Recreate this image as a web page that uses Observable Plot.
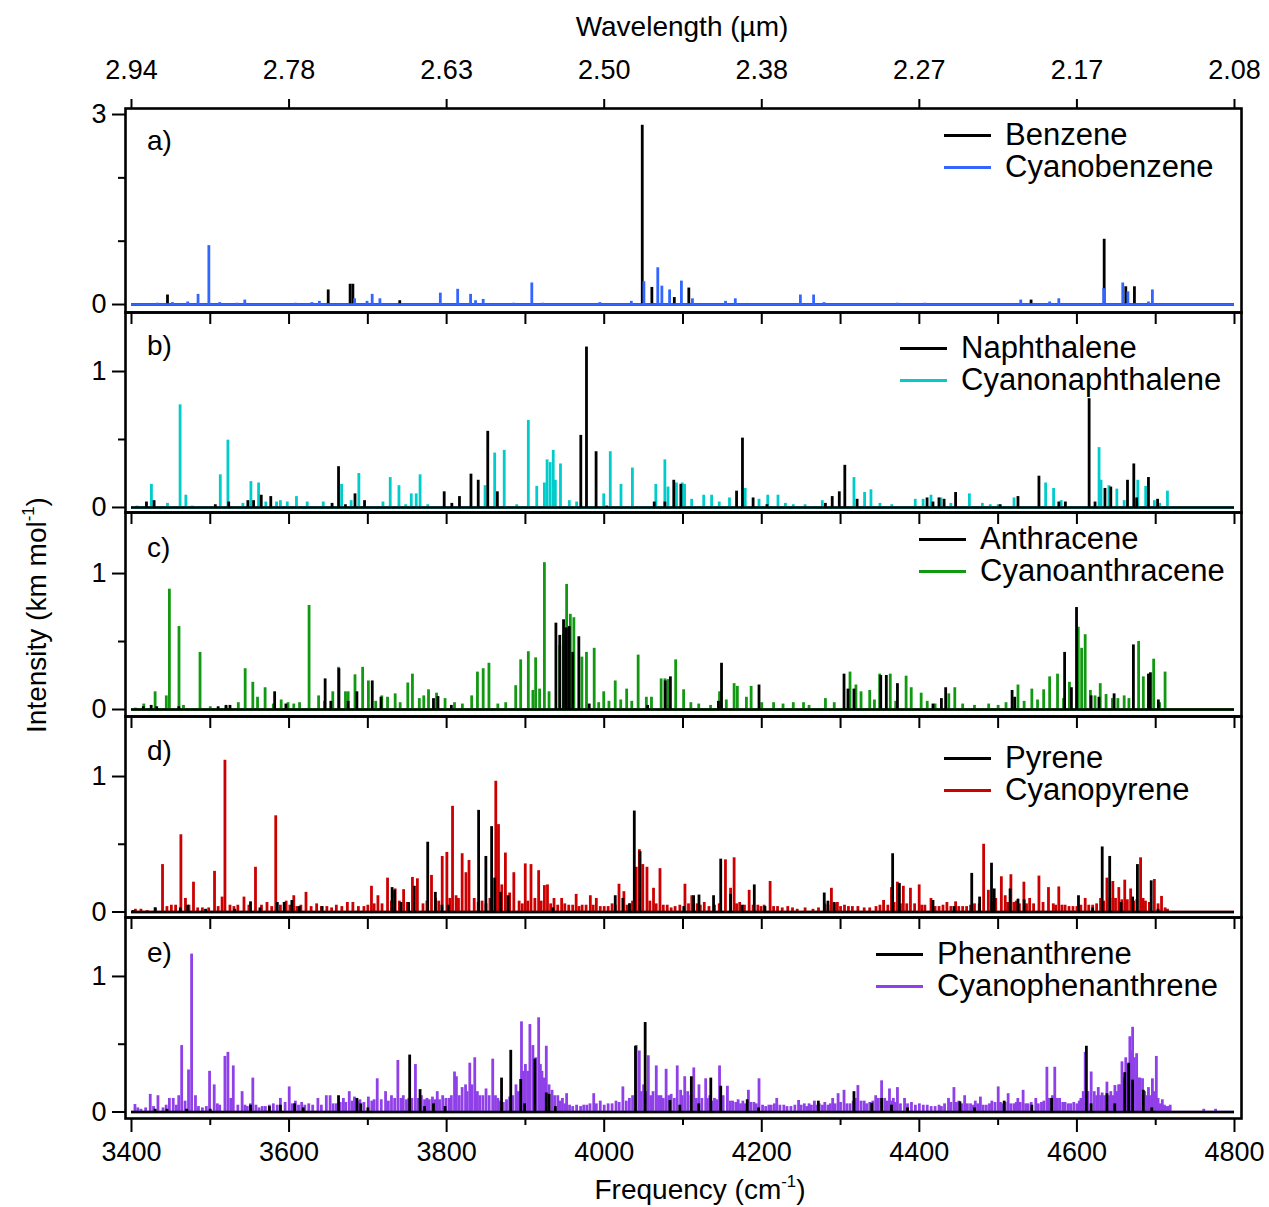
<!DOCTYPE html>
<html>
<head>
<meta charset="utf-8">
<script src="https://cdn.jsdelivr.net/npm/d3@7"></script>
<script src="https://cdn.jsdelivr.net/npm/@observablehq/plot@0.6"></script>
<style>
  html, body { margin: 0; padding: 0; background: white; }
  #chart { position: relative; width: 1269px; height: 1207px; background: white;
           font-family: "Liberation Sans", Arial, Helvetica, sans-serif; color: black; }
  #chart svg { position: absolute; left: 0; overflow: visible; }
  .lbl { position: absolute; white-space: nowrap; line-height: 1; }
  .leg-line { position: absolute; height: 3px; }
</style>
</head>
<body>
<div id="chart"></div>
<script>
// ---------------- DATA ----------------
const freqMajorTicks = [3400, 3600, 3800, 4000, 4200, 4400, 4600, 4800];
const freqMinorTicks = [3500, 3700, 3900, 4100, 4300, 4500, 4700];
const freqAllTicks = [3400, 3500, 3600, 3700, 3800, 3900, 4000, 4100, 4200, 4300, 4400, 4500, 4600, 4700, 4800];
const wavelengthLabels = ["2.94", "2.78", "2.63", "2.50", "2.38", "2.27", "2.17", "2.08"];
const freqRange = [3400, 4800];
const yMajorA = [0, 3], yMinorA = [1, 2];
const yMajor = [0, 1], yMinor = [0.5];
const panelLetters = ["a)", "b)", "c)", "d)", "e)"];
const parentNames = ["Benzene", "Naphthalene", "Anthracene", "Pyrene", "Phenanthrene"];
const cyanoNames = ["Cyanobenzene", "Cyanonaphthalene", "Cyanoanthracene", "Cyanopyrene", "Cyanophenanthrene"];

// [frequency cm-1, intensity km/mol]
const benzene = [[3445.7,0.15],[3649.7,0.23],[3677.5,0.32],[3681,0.32],[3740.5,0.06],[4048.3,2.83],[4060.5,0.27],[4089,0.11],[4107.4,0.26],[4541.8,0.07],[4634.6,1.03],[4662,0.28],[4673,0.28]];
const cyanobenzene = [[3433,0.02],[3452,0.03],[3471.4,0.04],[3484.5,0.16],[3498.2,0.93],[3512,0.03],[3534,0.02],[3543.8,0.07],[3608,0.02],[3629,0.03],[3638.5,0.05],[3683.2,0.09],[3699,0.05],[3705.5,0.16],[3715.3,0.09],[3792,0.18],[3814,0.24],[3830.4,0.16],[3836.7,0.06],[3846.4,0.08],[3885,0.02],[3908.1,0.34],[3922,0.02],[3994.5,0.03],[4034.4,0.05],[4050.4,0.36],[4068,0.58],[4073.2,0.29],[4083,0.23],[4098,0.37],[4112,0.09],[4154,0.05],[4166.4,0.09],[4249,0.15],[4265.8,0.15],[4279,0.03],[4372,0.02],[4407,0.02],[4528.7,0.07],[4565.4,0.04],[4577,0.09],[4634,0.25],[4658.2,0.34],[4664.7,0.2],[4690.8,0.04],[4695.8,0.23]];

const naphthalene = [[3419,0.04],[3428.7,0.05],[3506.4,0.02],[3523.4,0.04],[3547.7,0.05],[3555,0.05],[3564.7,0.09],[3576.8,0.08],[3654.6,0.03],[3662.8,0.30],[3671.6,0.02],[3683.7,0.10],[3695.8,0.05],[3796.9,0.115],[3806.6,0.03],[3816.3,0.08],[3830.9,0.245],[3840.1,0.20],[3852.2,0.56],[3864.4,0.115],[3970.3,0.53],[3977.5,1.18],[3989.7,0.41],[4003,0.01],[4063.5,0.04],[4077,0.04],[4088.3,0.20],[4097.3,0.17],[4168,0.12],[4175.5,0.51],[4189,0.07],[4206.6,0.02],[4280.8,0.03],[4289.4,0.08],[4298.4,0.115],[4305.4,0.31],[4321,0.06],[4409.8,0.07],[4417.3,0.04],[4424.9,0.07],[4431.4,0.06],[4446,0.11],[4502.6,0.02],[4525.2,0.08],[4551.8,0.23],[4577,0.04],[4585.4,0.04],[4615.5,0.80],[4623,0.04],[4635.6,0.14],[4643,0.15],[4664.2,0.20],[4672.2,0.32],[4675.8,0.07],[4690.8,0.22],[4702.4,0.06]];
const cyanonaphthalene = [[3407,0.01],[3425.3,0.17],[3445.7,0.03],[3461.7,0.755],[3469,0.09],[3477,0.01],[3512.7,0.24],[3522.4,0.495],[3541.4,0.03],[3551.6,0.19],[3561.3,0.18],[3570.5,0.04],[3584.1,0.04],[3589,0.05],[3597.7,0.04],[3609.4,0.08],[3623,0.04],[3643.4,0.04],[3666.7,0.17],[3678.8,0.05],[3688.6,0.25],[3719.2,0.04],[3728.4,0.22],[3739.5,0.16],[3748,0.02],[3755.1,0.10],[3761.4,0.10],[3766.3,0.24],[3776,0.02],[3848.8,0.16],[3861,0.40],[3873.1,0.42],[3889,0.02],[3903.7,0.64],[3914.4,0.155],[3924.1,0.18],[3927.5,0.35],[3931.4,0.33],[3935.3,0.42],[3938,0.2],[3944.5,0.32],[3955.7,0.05],[3965,0.04],[3999.4,0.10],[4007.7,0.41],[4021.3,0.17],[4035.8,0.29],[4065.5,0.17],[4077,0.35],[4081,0.15],[4091.7,0.18],[4099,0.18],[4102,0.17],[4111,0.06],[4126.3,0.09],[4136.3,0.09],[4146,0.04],[4159,0.07],[4179,0.14],[4196.5,0.06],[4207.6,0.09],[4220.6,0.09],[4230,0.03],[4240,0.02],[4255,0.02],[4276.8,0.05],[4317,0.22],[4330.5,0.11],[4338.6,0.13],[4350,0.03],[4365,0.02],[4394.8,0.06],[4404.8,0.06],[4414.8,0.09],[4427.4,0.07],[4440,0.03],[4463.5,0.10],[4480,0.03],[4490,0.02],[4500,0.02],[4520.2,0.07],[4560.3,0.18],[4570.4,0.14],[4580,0.05],[4628.1,0.44],[4630.6,0.20],[4640.6,0.16],[4650.7,0.135],[4660,0.05],[4677.3,0.20],[4687.3,0.155],[4698.3,0.05],[4705,0.03],[4714.9,0.12]];

const anthracene = [[3415,0.02],[3425,0.03],[3432,0.02],[3460,0.02],[3510,0.02],[3520,0.03],[3525,0.03],[3581.7,0.13],[3596,0.04],[3645.8,0.225],[3653,0.06],[3663.3,0.30],[3675,0.06],[3686.1,0.13],[3705.6,0.21],[3716.7,0.09],[3783.3,0.08],[3789,0.095],[3806,0.03],[3938.7,0.635],[3943.6,0.545],[3948.4,0.66],[3952,0.6],[3955.7,0.61],[3960,0.42],[3967.8,0.535],[3981,0.04],[4055,0.03],[4077.5,0.21],[4084,0.24],[4145,0.06],[4148.9,0.34],[4196.5,0.18],[4304.4,0.26],[4309.4,0.15],[4317,0.15],[4351,0.25],[4358.1,0.25],[4372.2,0.19],[4417.3,0.04],[4428,0.08],[4433.4,0.16],[4517.7,0.14],[4521,0.09],[4584.4,0.42],[4593,0.16],[4599.5,0.75],[4618,0.10],[4628,0.09],[4647.2,0.115],[4671.7,0.475],[4690.8,0.26],[4693.3,0.27],[4703.4,0.07]];
const cyanoanthracene = [[3405,0.01],[3415.6,0.04],[3430,0.13],[3444.2,0.10],[3448.1,0.885],[3460.3,0.61],[3466,0.03],[3487,0.42],[3500,0.02],[3520,0.02],[3535.6,0.05],[3544.3,0.30],[3554,0.20],[3560,0.09],[3569.6,0.16],[3580,0.04],[3590,0.07],[3598.7,0.05],[3606,0.04],[3613.3,0.05],[3625.4,0.765],[3637.5,0.10],[3645,0.06],[3655.5,0.13],[3662.8,0.31],[3671.6,0.13],[3675,0.13],[3683.7,0.255],[3693.4,0.31],[3700.7,0.21],[3710,0.06],[3717.7,0.10],[3725,0.09],[3734.7,0.115],[3741,0.05],[3750.7,0.195],[3756.6,0.26],[3765.3,0.08],[3771,0.1],[3777,0.145],[3787.2,0.12],[3798,0.08],[3810,0.05],[3820,0.04],[3831.8,0.10],[3839.1,0.275],[3846.4,0.30],[3853.7,0.34],[3865,0.04],[3875,0.05],[3887.7,0.175],[3894,0.365],[3903.7,0.425],[3909.5,0.14],[3913,0.38],[3918,0.15],[3924.1,1.08],[3930,0.13],[3943.6,0.47],[3948.4,0.555],[3952.3,0.92],[3957,0.7],[3961.5,0.675],[3971.7,0.385],[3977.5,0.42],[3987.3,0.45],[3993,0.05],[3999.4,0.13],[4006,0.06],[4014,0.21],[4021,0.07],[4028.5,0.15],[4035,0.06],[4043.1,0.40],[4053.5,0.09],[4060,0.09],[4072.3,0.225],[4077.1,0.225],[4081,0.22],[4090.7,0.365],[4100.8,0.145],[4110,0.05],[4120,0.04],[4135,0.03],[4146.4,0.13],[4155,0.07],[4164.9,0.19],[4169,0.17],[4180.5,0.09],[4186.5,0.17],[4200,0.05],[4215,0.05],[4227,0.04],[4240,0.05],[4253,0.05],[4260,0.03],[4280.8,0.08],[4292,0.05],[4312,0.275],[4319.5,0.18],[4326,0.13],[4337,0.14],[4343,0.07],[4349.6,0.26],[4363.1,0.26],[4370,0.06],[4383.2,0.245],[4389.7,0.16],[4402.3,0.12],[4410,0.06],[4420,0.04],[4437.4,0.115],[4445,0.16],[4455,0.04],[4470,0.03],[4488,0.04],[4500,0.03],[4510,0.05],[4525.2,0.18],[4533,0.06],[4542.8,0.15],[4550,0.07],[4557.8,0.145],[4565.4,0.24],[4575.4,0.26],[4583,0.08],[4590.5,0.20],[4601.7,0.605],[4606,0.45],[4610.5,0.55],[4617.1,0.14],[4623,0.1],[4629.6,0.19],[4637,0.11],[4645,0.08],[4652,0.08],[4660,0.1],[4666,0.08],[4678.3,0.50],[4684.3,0.24],[4697.4,0.37],[4705,0.05],[4711.9,0.275]];

const pyrene = [[3402,0.01],[3430.2,0.03],[3462,0.03],[3471.4,0.05],[3494,0.02],[3531,0.02],[3551.1,0.075],[3563,0.03],[3585.1,0.07],[3593.8,0.07],[3603.6,0.085],[3613,0.04],[3642,0.04],[3730.8,0.18],[3734,0.16],[3742,0.07],[3751.7,0.07],[3759,0.19],[3776,0.515],[3785.7,0.145],[3794,0.05],[3802,0.05],[3840.6,0.75],[3849.8,0.41],[3857.1,0.63],[3861,0.25],[3868.3,0.145],[3878,0.12],[3935,0.03],[4014,0.12],[4023.7,0.10],[4032,0.06],[4038.2,0.745],[4045.5,0.445],[4101,0.04],[4113.5,0.12],[4120.3,0.125],[4138.8,0.12],[4147.9,0.39],[4160.4,0.13],[4175,0.05],[4190.5,0.20],[4204,0.04],[4279.3,0.14],[4284,0.08],[4291.9,0.07],[4366.1,0.43],[4374.7,0.21],[4417.3,0.085],[4444,0.04],[4466.5,0.285],[4476.5,0.11],[4491.6,0.36],[4495,0.17],[4515.2,0.17],[4525.2,0.095],[4533,0.09],[4602,0.12],[4620,0.03],[4632.1,0.48],[4641.6,0.41],[4656,0.07],[4670.7,0.11],[4676.8,0.35],[4694.3,0.23],[4703,0.02]];
const cyanopyrene = [[3405,0.02],[3412,0.02],[3420,0.01],[3430,0.03],[3439.4,0.35],[3445,0.04],[3450.6,0.05],[3456,0.05],[3462.7,0.57],[3468.5,0.10],[3473,0.05],[3478.7,0.22],[3484,0.03],[3490,0.03],[3498,0.03],[3505.4,0.30],[3510,0.04],[3515,0.11],[3518.6,1.12],[3525,0.05],[3530,0.04],[3535,0.05],[3542.8,0.11],[3549,0.05],[3557.4,0.33],[3565,0.05],[3572,0.07],[3578,0.04],[3583.1,0.71],[3589,0.05],[3596.3,0.08],[3601,0.05],[3606,0.12],[3610,0.04],[3615,0.05],[3621.5,0.145],[3628,0.04],[3635,0.06],[3641,0.04],[3648,0.04],[3654,0.03],[3660,0.05],[3667,0.04],[3674,0.07],[3681,0.07],[3688,0.04],[3695,0.04],[3700,0.05],[3704.6,0.19],[3708,0.06],[3712.8,0.12],[3718,0.06],[3725,0.25],[3730,0.08],[3734.7,0.17],[3740,0.08],[3745.4,0.165],[3750,0.07],[3756.6,0.255],[3762.9,0.245],[3770,0.06],[3775,0.08],[3780.8,0.27],[3786,0.1],[3790,0.08],[3794.4,0.41],[3800.3,0.44],[3804,0.1],[3807.5,0.78],[3812,0.12],[3815,0.1],[3819.7,0.43],[3824.5,0.29],[3828.4,0.38],[3835,0.1],[3840,0.07],[3845,0.08],[3850,0.06],[3855,0.1],[3862.4,0.965],[3865.8,0.645],[3870,0.2],[3874.6,0.435],[3880,0.14],[3885.3,0.29],[3892,0.08],[3896,0.06],[3899.8,0.355],[3903,0.08],[3907.1,0.35],[3912,0.1],[3916.8,0.305],[3920,0.08],[3924.1,0.195],[3928,0.2],[3932,0.06],[3936.3,0.1],[3941,0.05],[3946,0.1],[3950,0.06],[3955,0.05],[3960,0.05],[3964.4,0.13],[3968,0.04],[3972,0.05],[3977,0.05],[3982.4,0.12],[3986,0.05],[3990,0.1],[3995,0.04],[4000,0.04],[4005,0.04],[4010,0.06],[4014,0.05],[4018.8,0.205],[4025,0.15],[4029,0.05],[4033,0.06],[4036,0.08],[4040.7,0.33],[4044.6,0.46],[4049,0.35],[4054.3,0.33],[4058,0.08],[4062.6,0.175],[4066,0.06],[4070.8,0.32],[4075,0.05],[4080,0.05],[4085,0.03],[4090,0.04],[4096,0.05],[4102.5,0.205],[4107,0.06],[4111.2,0.12],[4118,0.06],[4122,0.05],[4127,0.07],[4133,0.04],[4140,0.05],[4146,0.06],[4153.9,0.385],[4160.4,0.175],[4164.9,0.40],[4168,0.06],[4172,0.07],[4178,0.05],[4184,0.16],[4189,0.05],[4195,0.05],[4199,0.04],[4203,0.05],[4210.6,0.225],[4215,0.04],[4220,0.04],[4226,0.03],[4233,0.04],[4239,0.03],[4245,0.02],[4255,0.03],[4265,0.02],[4272,0.03],[4280,0.06],[4284,0.05],[4288.4,0.175],[4292,0.06],[4296,0.07],[4300,0.04],[4305,0.05],[4310,0.04],[4315,0.04],[4322,0.04],[4330,0.03],[4337,0.03],[4345,0.04],[4350,0.05],[4354.6,0.085],[4360,0.05],[4364.6,0.18],[4368,0.07],[4372.2,0.22],[4376,0.06],[4379.7,0.19],[4384,0.06],[4388.7,0.175],[4394,0.06],[4399.8,0.20],[4403,0.05],[4407,0.05],[4414.8,0.10],[4420,0.04],[4425,0.04],[4430,0.05],[4435,0.07],[4440,0.04],[4446,0.075],[4450,0.04],[4455,0.04],[4460,0.04],[4465,0.05],[4470,0.06],[4476,0.06],[4481.6,0.50],[4487.6,0.16],[4492,0.07],[4497,0.1],[4504.1,0.26],[4509,0.12],[4512,0.07],[4516.2,0.275],[4520,0.07],[4523,0.08],[4527,0.06],[4532.7,0.22],[4536,0.06],[4540,0.1],[4545,0.06],[4551.8,0.265],[4557,0.07],[4563.9,0.18],[4570,0.06],[4573,0.05],[4577,0.185],[4581,0.05],[4585,0.05],[4590,0.04],[4595,0.04],[4600,0.04],[4605,0.05],[4610.5,0.10],[4615,0.05],[4620,0.05],[4625,0.06],[4630,0.1],[4634,0.08],[4638.1,0.25],[4642,0.1],[4645.6,0.225],[4649,0.1],[4653.2,0.18],[4657,0.09],[4660.7,0.235],[4664,0.09],[4668.2,0.17],[4672,0.08],[4676,0.09],[4680.8,0.40],[4684,0.1],[4687,0.08],[4692,0.07],[4698.3,0.24],[4703,0.06],[4707.4,0.115],[4712,0.03],[4715,0.02]];

const phenanthrene = [[3430,0.02],[3445,0.02],[3470,0.02],[3500,0.02],[3551.1,0.05],[3575,0.04],[3589,0.05],[3607,0.06],[3618,0.03],[3662.8,0.12],[3686.1,0.10],[3691,0.06],[3700,0.03],[3753.1,0.42],[3766.3,0.165],[3772,0.04],[3783.3,0.06],[3798,0.04],[3869.7,0.25],[3881.4,0.455],[3894,0.24],[3899,0.06],[3912,0.39],[3926.5,0.14],[3930,0.13],[3938,0.04],[4039.7,0.485],[4052,0.66],[4083.5,0.085],[4096,0.05],[4110.6,0.26],[4120,0.06],[4135.3,0.25],[4147.9,0.19],[4181.5,0.09],[4196,0.03],[4271.8,0.08],[4317,0.15],[4339.6,0.065],[4352.1,0.10],[4364.6,0.05],[4385,0.03],[4451.5,0.075],[4470,0.03],[4507.7,0.08],[4542.8,0.05],[4567.9,0.10],[4612,0.485],[4618,0.06],[4638.1,0.135],[4648,0.06],[4660.7,0.29],[4665.7,0.36],[4670.7,0.235],[4684.3,0.16],[4695,0.03]];
const cyanophenanthrene = [[3404.4,0.055],[3408,0.03],[3412,0.02],[3418,0.03],[3423.8,0.13],[3428,0.04],[3433.6,0.12],[3440,0.03],[3444,0.05],[3448.1,0.10],[3453,0.1],[3457,0.05],[3460,0.12],[3463.7,0.49],[3468,0.08],[3472.4,0.31],[3476.3,1.165],[3481.2,0.12],[3485,0.04],[3490,0.03],[3495,0.04],[3499.1,0.30],[3505,0.20],[3509,0.06],[3512,0.05],[3518.6,0.41],[3522.4,0.44],[3526,0.1],[3529.2,0.34],[3535,0.05],[3540.4,0.15],[3544,0.05],[3547,0.04],[3551,0.06],[3554,0.25],[3558,0.05],[3562,0.03],[3566,0.04],[3570,0.04],[3575,0.05],[3580,0.06],[3585,0.05],[3589,0.10],[3595,0.07],[3600.2,0.185],[3604,0.06],[3608,0.08],[3612,0.05],[3616,0.07],[3620,0.05],[3625,0.06],[3630,0.05],[3636.6,0.10],[3641,0.05],[3647.3,0.12],[3652.1,0.12],[3656,0.06],[3660,0.06],[3665,0.07],[3669,0.1],[3672,0.07],[3676.4,0.15],[3680,0.08],[3683,0.11],[3687,0.08],[3690,0.09],[3695,0.07],[3700.7,0.11],[3705,0.08],[3708,0.09],[3711.9,0.245],[3717,0.09],[3722.5,0.15],[3726,0.08],[3730,0.12],[3734,0.1],[3738.1,0.38],[3742,0.1],[3745,0.12],[3749,0.09],[3752,0.1],[3756,0.1],[3760.4,0.35],[3764,0.1],[3768,0.12],[3772,0.09],[3775,0.1],[3778,0.09],[3782,0.11],[3785,0.09],[3788.1,0.15],[3791,0.09],[3795,0.12],[3799,0.1],[3803,0.1],[3806,0.12],[3810,0.295],[3812.4,0.26],[3816,0.12],[3819.7,0.18],[3824,0.2],[3826,0.15],[3829.4,0.36],[3832,0.2],[3835.7,0.40],[3839,0.15],[3842,0.12],[3846,0.12],[3850,0.17],[3854,0.12],[3858.5,0.39],[3862,0.12],[3865,0.1],[3868,0.08],[3872,0.07],[3876,0.09],[3880,0.11],[3884,0.12],[3888,0.2],[3891,0.15],[3895,0.665],[3897,0.3],[3900,0.35],[3903,0.3],[3905.7,0.645],[3909.5,0.49],[3913,0.4],[3916.8,0.695],[3919,0.35],[3921,0.3],[3924,0.25],[3926.5,0.485],[3930,0.2],[3933.8,0.16],[3937,0.12],[3941.1,0.12],[3944,0.08],[3947,0.1],[3950,0.06],[3952.3,0.135],[3956,0.05],[3960,0.04],[3965,0.05],[3970,0.04],[3974,0.05],[3978,0.05],[3982,0.06],[3986.7,0.135],[3990,0.06],[3995,0.08],[4000,0.05],[4005,0.06],[4010,0.06],[4015,0.08],[4019,0.07],[4023.7,0.185],[4028,0.08],[4032,0.1],[4036,0.12],[4040.7,0.49],[4044.6,0.45],[4047,0.15],[4050,0.2],[4053,0.15],[4056,0.415],[4059,0.12],[4062,0.15],[4066.1,0.34],[4069,0.12],[4072,0.12],[4075,0.1],[4078.6,0.315],[4082,0.12],[4085,0.13],[4089,0.1],[4092.7,0.34],[4097,0.16],[4099,0.12],[4102.2,0.26],[4106,0.15],[4110,0.12],[4113.7,0.325],[4117,0.1],[4120.3,0.2],[4124,0.1],[4128.8,0.245],[4131,0.1],[4134,0.12],[4137,0.08],[4140,0.1],[4143,0.09],[4146.4,0.34],[4151,0.12],[4156.4,0.19],[4160,0.08],[4163,0.08],[4167,0.07],[4170,0.09],[4173,0.06],[4176,0.08],[4179,0.06],[4183,0.16],[4186,0.07],[4190,0.07],[4193,0.06],[4196.5,0.245],[4201,0.05],[4205,0.04],[4209,0.05],[4212,0.05],[4216,0.06],[4219,0.10],[4223,0.05],[4228,0.05],[4232,0.04],[4237,0.04],[4242,0.05],[4246.7,0.085],[4250,0.05],[4254,0.06],[4257,0.04],[4260,0.06],[4263,0.05],[4266.8,0.08],[4270,0.05],[4273,0.06],[4277,0.05],[4280,0.07],[4284,0.05],[4287,0.06],[4290,0.1],[4293,0.06],[4296.9,0.135],[4300,0.07],[4304.4,0.16],[4308,0.06],[4312,0.06],[4316,0.08],[4319,0.1],[4322,0.195],[4326,0.08],[4330,0.08],[4333,0.06],[4337,0.07],[4341,0.08],[4344.6,0.12],[4348,0.1],[4352.1,0.23],[4356,0.1],[4359,0.08],[4362.1,0.17],[4365,0.08],[4367,0.1],[4369,0.07],[4372.2,0.18],[4376,0.06],[4381.2,0.1],[4385,0.06],[4390,0.07],[4395,0.05],[4400,0.06],[4405,0.05],[4410,0.05],[4415,0.04],[4420,0.04],[4425,0.05],[4428,0.04],[4432,0.06],[4437,0.1],[4440,0.07],[4443.9,0.18],[4447,0.07],[4450,0.08],[4454,0.06],[4457.5,0.12],[4461,0.06],[4465,0.06],[4468,0.05],[4471,0.08],[4474,0.06],[4477.5,0.11],[4481,0.05],[4485,0.05],[4489,0.06],[4492,0.08],[4496,0.07],[4500.1,0.185],[4503,0.07],[4506,0.06],[4509,0.07],[4512.7,0.135],[4516,0.06],[4520,0.06],[4523,0.07],[4525,0.1],[4528,0.07],[4531.7,0.16],[4535,0.06],[4538,0.06],[4542,0.07],[4547.8,0.1],[4551,0.06],[4555,0.07],[4558,0.08],[4561.9,0.33],[4564,0.1],[4566,0.1],[4569,0.12],[4571.9,0.33],[4575,0.1],[4578,0.1],[4582,0.07],[4585,0.07],[4589,0.06],[4592,0.06],[4596,0.07],[4600,0.06],[4603,0.08],[4605,0.1],[4608,0.15],[4610.5,0.44],[4614,0.15],[4618.1,0.295],[4622,0.15],[4625,0.12],[4627.1,0.18],[4630,0.12],[4632,0.14],[4635,0.12],[4638.1,0.22],[4641,0.12],[4643,0.15],[4646,0.12],[4648.2,0.195],[4651,0.15],[4653,0.2],[4655,0.2],[4657.2,0.37],[4660,0.25],[4662,0.4],[4665,0.35],[4667.2,0.555],[4669,0.45],[4670.7,0.625],[4673,0.4],[4675.8,0.43],[4678,0.25],[4680,0.25],[4683.3,0.245],[4686,0.15],[4688,0.12],[4690.8,0.18],[4693,0.12],[4695.8,0.245],[4698,0.15],[4700.8,0.41],[4703,0.1],[4705,0.06],[4708.4,0.09],[4711,0.05],[4713,0.04],[4716,0.04],[4718.4,0.05],[4761,0.02],[4776,0.02]];

const cyanoColors = ["#3366ff", "#00cccc", "#119911", "#cc0000", "#9040e8"];

// ---------------- LAYOUT ----------------
const FONT = '"Liberation Sans", Arial, Helvetica, sans-serif';
const W = 1269, ML = 125, MR = 28;
const xDomain = [3392.4, 4808.9];
const panels = [
  {top: 0,   height: 312, mt: 108, mb: 0,  y: [-0.126, 3.095], parent: benzene,      cyano: cyanobenzene,      cyanoOnTop: true,  labelY: 141, legX: 944, legY: 134},
  {top: 312, height: 200, mt: 0,   mb: 0,  y: [-0.037, 1.434], parent: naphthalene,  cyano: cyanonaphthalene,  cyanoOnTop: false, labelY: 346, legX: 900, legY: 347},
  {top: 512, height: 204, mt: 0,   mb: 0,  y: [-0.0515, 1.449], parent: anthracene,  cyano: cyanoanthracene,   cyanoOnTop: false, labelY: 548, legX: 919, legY: 538},
  {top: 716, height: 201, mt: 0,   mb: 0,  y: [-0.0406, 1.443], parent: pyrene,      cyano: cyanopyrene,       cyanoOnTop: false, labelY: 751, legX: 944, legY: 757},
  {top: 917, height: 290, mt: 0,   mb: 89, y: [-0.048, 1.435], parent: phenanthrene, cyano: cyanophenanthrene, cyanoOnTop: false, labelY: 953, legX: 876, legY: 953}
];

const chart = document.getElementById("chart");

function spectrumMarks(data, color) {
  return [
    Plot.ruleX(data, {x: d => d[0], y1: 0, y2: d => d[1], stroke: color, strokeWidth: 2.8}),
    Plot.ruleY([0], {x1: freqRange[0], x2: freqRange[1], stroke: color, strokeWidth: 2.6})
  ];
}

function addText(txt, x, yc, size) {
  const d = document.createElement("div");
  d.className = "lbl";
  d.innerHTML = txt;
  d.style.left = x + "px";
  d.style.top = yc + "px";
  d.style.fontSize = size + "px";
  d.style.transform = "translateY(-50%)";
  chart.appendChild(d);
  return d;
}
function addLine(x, y, color) {
  const d = document.createElement("div");
  d.className = "leg-line";
  d.style.left = x + "px";
  d.style.top = (y - 1.5) + "px";
  d.style.width = "47px";
  d.style.background = color;
  chart.appendChild(d);
}

panels.forEach((p, i) => {
  const isFirst = i === 0, isLast = i === panels.length - 1;
  const color = cyanoColors[i];
  const marks = [];
  if (p.cyanoOnTop) {
    marks.push(...spectrumMarks(p.parent, "black"), ...spectrumMarks(p.cyano, color));
  } else {
    marks.push(...spectrumMarks(p.cyano, color), ...spectrumMarks(p.parent, "black"));
  }
  const yMaj = isFirst ? yMajorA : yMajor;
  const yMin = isFirst ? yMinorA : yMinor;
  marks.push(
    Plot.axisY({ticks: yMaj, anchor: "left", tickSize: 13, tickPadding: 6, strokeWidth: 2, fontSize: 27, label: null, tickFormat: d => String(d)}),
    Plot.axisY({ticks: yMin, anchor: "left", tickSize: 7, strokeWidth: 2, label: null, tickFormat: () => ""})
  );
  if (isFirst) {
    marks.push(Plot.axisX({ticks: freqMajorTicks, anchor: "top", tickSize: 10, tickPadding: 20, strokeWidth: 2, fontSize: 27, label: null,
      tickFormat: d => wavelengthLabels[freqMajorTicks.indexOf(d)]}));
  }
  if (!isLast) {
    marks.push(Plot.axisX({ticks: freqAllTicks, anchor: "bottom", tickSize: 12, strokeWidth: 2, label: null, tickFormat: () => ""}));
  } else {
    marks.push(
      Plot.axisX({ticks: freqMajorTicks, anchor: "bottom", tickSize: 14, tickPadding: 9, strokeWidth: 2, fontSize: 27, label: null, tickFormat: d => String(d)}),
      Plot.axisX({ticks: freqMinorTicks, anchor: "bottom", tickSize: 7, strokeWidth: 2, label: null, tickFormat: () => ""})
    );
  }
  marks.push(Plot.frame({stroke: "black", strokeWidth: 2.6}));

  const svg = Plot.plot({
    width: W, height: p.height,
    marginLeft: ML, marginRight: MR, marginTop: p.mt, marginBottom: p.mb,
    style: {background: "transparent", overflow: "visible", fontFamily: FONT, fontSize: "27px", color: "black"},
    x: {domain: xDomain},
    y: {domain: p.y},
    marks
  });
  svg.style.top = p.top + "px";
  chart.appendChild(svg);

  addText(panelLetters[i], 147, p.labelY, 28);
  addLine(p.legX, p.legY + 1, "black");
  addLine(p.legX, p.legY + 33, color);
  addText(parentNames[i], p.legX + 61, p.legY, 31);
  addText(cyanoNames[i], p.legX + 61, p.legY + 32, 31);
});

const t1 = addText("Wavelength (µm)", 682, 27, 28);
t1.style.transform = "translate(-50%,-50%)";
const t2 = addText('Frequency (cm<sup style="font-size:0.6em;vertical-align:0.75em">-1</sup>)', 700, 1189, 28);
t2.style.transform = "translate(-50%,-50%)";
const t3 = addText('Intensity (km mol<sup style="font-size:0.6em;vertical-align:0.75em">-1</sup>)', 36, 615, 28);
t3.style.transform = "translate(-50%,-50%) rotate(-90deg)";
</script>
</body>
</html>
